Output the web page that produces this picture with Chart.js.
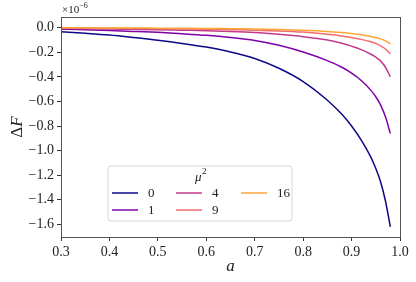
<!DOCTYPE html>
<html>
<head>
<meta charset="utf-8">
<script src="https://cdn.jsdelivr.net/npm/chart.js@4.4.0/dist/chart.umd.min.js"></script>
<style>
  html, body { margin: 0; padding: 0; background: #fff; }
  #wrap { width: 416px; height: 282px; position: relative; }
</style>
</head>
<body>
<div id="wrap"><canvas id="chart"></canvas></div>
<script>
// valeurs (unités de 1e-6)
const aValues = [0.30, 0.35, 0.40, 0.45, 0.50, 0.55, 0.60, 0.65, 0.70, 0.75, 0.80, 0.85, 0.88, 0.90, 0.92, 0.94, 0.95, 0.96, 0.97, 0.98];

const mu0 = [-0.032, -0.045, -0.060, -0.080, -0.102, -0.128, -0.158, -0.197, -0.250, -0.330, -0.438, -0.590, -0.705, -0.800, -0.915, -1.055, -1.145, -1.255, -1.410, -1.620];
const mu1 = [-0.012, -0.017, -0.023, -0.030, -0.038, -0.049, -0.062, -0.080, -0.104, -0.143, -0.198, -0.268, -0.322, -0.370, -0.430, -0.510, -0.562, -0.630, -0.725, -0.860];
const mu4 = [-0.006, -0.008, -0.010, -0.013, -0.016, -0.020, -0.024, -0.030, -0.039, -0.054, -0.073, -0.100, -0.126, -0.150, -0.178, -0.216, -0.240, -0.272, -0.322, -0.400];
const mu9 = [-0.003, -0.004, -0.005, -0.006, -0.008, -0.010, -0.012, -0.016, -0.020, -0.026, -0.036, -0.053, -0.067, -0.080, -0.095, -0.115, -0.128, -0.148, -0.173, -0.213];
const mu16 = [-0.001, -0.001, -0.002, -0.003, -0.004, -0.005, -0.006, -0.008, -0.010, -0.014, -0.020, -0.030, -0.040, -0.048, -0.058, -0.072, -0.080, -0.091, -0.107, -0.132];

const seriesLabels = ['0', '1', '4', '9', '16'];
const seriesValues = [mu0, mu1, mu4, mu9, mu16];
const seriesColors = ['#0d0887', '#7e03a8', '#c23a8b', '#ee6d6d', '#fca636'];

const xTicks = [0.3, 0.4, 0.5, 0.6, 0.7, 0.8, 0.9, 1.0];
const yTicks = [0.0, -0.2, -0.4, -0.6, -0.8, -1.0, -1.2, -1.4, -1.6];

const serif = "'Liberation Serif', 'DejaVu Serif', serif";

function fmt(v) {
    return v.toFixed(1).replace('-', '\u2212');
}

// cadre, titres d'axes, facteur d'échelle et légende
const decorations = {
    id: 'decorations',
    afterDraw(chart) {
        const ctx = chart.ctx;
        const area = chart.chartArea;
        ctx.save();

        ctx.strokeStyle = '#555';
        ctx.lineWidth = 1;
        ctx.strokeRect(area.left + 0.5, area.top + 0.5, area.right - area.left, area.bottom - area.top);

        // ×10^-6
        ctx.fillStyle = '#222';
        ctx.textBaseline = 'alphabetic';
        ctx.textAlign = 'left';
        ctx.font = '11px ' + serif;
        ctx.fillText('\u00d710', area.left + 1, 13);
        const w = ctx.measureText('\u00d710').width;
        ctx.font = '8px ' + serif;
        ctx.fillText('\u22126', area.left + 1 + w, 8);

        // titre x
        ctx.font = 'italic 17px ' + serif;
        ctx.textAlign = 'center';
        ctx.fillText('a', (area.left + area.right) / 2, 271);

        // titre y
        ctx.translate(22, 127);
        ctx.rotate(-Math.PI / 2);
        ctx.font = '17px ' + serif;
        const dw = ctx.measureText('\u0394').width;
        ctx.font = 'italic 17px ' + serif;
        const fw = ctx.measureText('F').width;
        ctx.textAlign = 'left';
        ctx.font = '17px ' + serif;
        ctx.fillText('\u0394', -(dw + fw) / 2, 0);
        ctx.font = 'italic 17px ' + serif;
        ctx.fillText('F', -(dw + fw) / 2 + dw, 0);
        ctx.setTransform(1, 0, 0, 1, 0, 0);

        // légende
        const bx = 108, by = 166, bw = 184, bh = 55, r = 3;
        ctx.beginPath();
        ctx.moveTo(bx + r, by);
        ctx.arcTo(bx + bw, by, bx + bw, by + bh, r);
        ctx.arcTo(bx + bw, by + bh, bx, by + bh, r);
        ctx.arcTo(bx, by + bh, bx, by, r);
        ctx.arcTo(bx, by, bx + bw, by, r);
        ctx.closePath();
        ctx.fillStyle = 'rgba(255,255,255,0.85)';
        ctx.fill();
        ctx.strokeStyle = '#d8d8d8';
        ctx.stroke();

        ctx.fillStyle = '#222';
        ctx.textAlign = 'left';
        ctx.font = 'italic 13px ' + serif;
        ctx.fillText('\u03bc', 195, 181);
        ctx.font = '9px ' + serif;
        ctx.fillText('2', 202, 174);

        const cols = [112, 176, 241];
        const rows = [193, 210];
        ctx.font = '13px ' + serif;
        ctx.textBaseline = 'middle';
        seriesLabels.forEach((lab, i) => {
            const cx = cols[Math.floor(i / 2)];
            const cy = rows[i % 2];
            ctx.strokeStyle = seriesColors[i];
            ctx.lineWidth = 1.5;
            ctx.beginPath();
            ctx.moveTo(cx, cy);
            ctx.lineTo(cx + 26, cy);
            ctx.stroke();
            ctx.fillStyle = '#222';
            ctx.fillText(lab, cx + 36, cy + 1);
        });
        ctx.restore();
    }
};

const datasets = seriesValues.map((vals, i) => ({
    label: seriesLabels[i],
    data: aValues.map((a, k) => ({ x: a, y: vals[k] })),
    borderColor: seriesColors[i],
    backgroundColor: seriesColors[i],
    borderWidth: 1.5,
    pointRadius: 0,
    cubicInterpolationMode: 'monotone',
    fill: false
})).reverse();

new Chart(document.getElementById('chart').getContext('2d'), {
    type: 'line',
    data: { datasets: datasets },
    options: {
        responsive: true,
        maintainAspectRatio: false,
        animation: false,
        layout: { padding: { left: 0, right: 16, top: 17, bottom: 0 } },
        scales: {
            x: {
                type: 'linear',
                min: 0.3,
                max: 1.0,
                afterFit: function(scale) { scale.height = 45; },
                afterBuildTicks: function(scale) {
                    scale.ticks = xTicks.map(v => ({ value: v }));
                },
                grid: { drawOnChartArea: false, drawTicks: true, tickLength: 4, tickColor: '#333' },
                border: { color: '#555', width: 1 },
                ticks: {
                    color: '#222',
                    padding: 3,
                    maxRotation: 0,
                    font: { family: serif, size: 14 },
                    callback: function(v) { return fmt(v); }
                }
            },
            y: {
                type: 'linear',
                min: -1.703,
                max: 0.087,
                afterFit: function(scale) { scale.width = 61; },
                afterBuildTicks: function(scale) {
                    scale.ticks = yTicks.map(v => ({ value: v }));
                },
                grid: { drawOnChartArea: false, drawTicks: true, tickLength: 4, tickColor: '#333' },
                border: { color: '#555', width: 1 },
                ticks: {
                    color: '#222',
                    padding: 3,
                    font: { family: serif, size: 14 },
                    callback: function(v) { return fmt(v); }
                }
            }
        },
        plugins: {
            legend: { display: false },
            tooltip: { enabled: false }
        }
    },
    plugins: [decorations]
});
</script>
</body>
</html>
